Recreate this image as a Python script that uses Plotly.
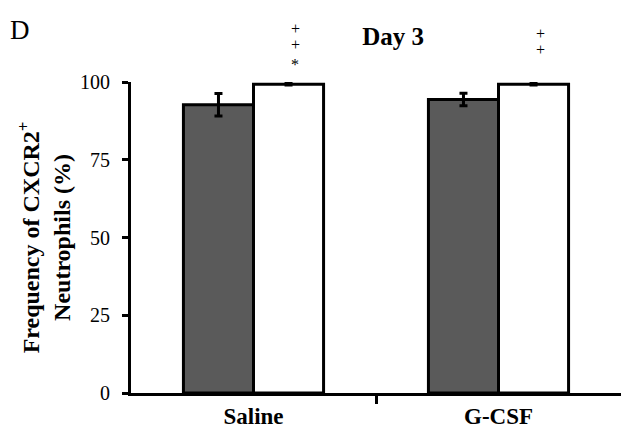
import plotly.graph_objects as go

categories = ["Saline", "G-CSF"]
dark_values = [92.7, 94.4]
dark_errors = [3.6, 2.0]
white_values = [99.3, 99.3]
white_errors = [0.3, 0.3]
sig_marks = [["+", "+", "*"], ["+", "+"]]
y_ticks = [0, 25, 50, 75, 100]

xpos = list(range(len(categories)))
serif = "Liberation Serif, Times New Roman, serif"
# pixel offsets of each mark above the bar top
mark_shifts = [[55, 39, 19], [50, 34]]

fig = go.Figure()
fig.add_trace(go.Bar(
    x=xpos, y=dark_values, width=0.286, offset=-0.286,
    marker=dict(color="#5a5a5a", line=dict(color="black", width=3)),
    error_y=dict(type="data", array=dark_errors, color="black", thickness=3, width=4),
))
fig.add_trace(go.Bar(
    x=xpos, y=white_values, width=0.286, offset=0,
    marker=dict(color="white", line=dict(color="black", width=3)),
    error_y=dict(type="data", array=white_errors, color="black", thickness=3, width=4),
))

for i, marks in enumerate(sig_marks):
    for j, m in enumerate(marks):
        fig.add_annotation(x=xpos[i] + 0.17, y=white_values[i] + white_errors[i], yref="y",
                           text=m, showarrow=False, yanchor="middle", yshift=mark_shifts[i][j],
                           font=dict(family=serif, size=16, color="#000000"))

fig.add_annotation(x=-0.252, y=1.222, xref="paper", yref="paper", xanchor="left", yanchor="top",
                   text="D", showarrow=False,
                   font=dict(family=serif, size=27, color="#000000"))

fig.update_layout(
    width=621, height=439,
    margin=dict(l=131, r=0, t=82, b=46),
    paper_bgcolor="white", plot_bgcolor="white",
    showlegend=False, barmode="overlay",
    title=dict(text="<b>Day 3</b>", x=0.633, xanchor="center", y=0.917, yanchor="middle",
               font=dict(family=serif, size=25, color="black")),
    xaxis=dict(range=[-0.5, 1.5], tickvals=xpos,
               ticktext=["<b>" + c + "</b>" for c in categories],
               ticks="", showline=True, linecolor="black", linewidth=3,
               showgrid=False, zeroline=False,
               tickfont=dict(family=serif, size=23, color="black"),
               minor=dict(tickvals=[0.5], ticks="outside", ticklen=8, tickwidth=3, tickcolor="black")),
    yaxis=dict(range=[0, 100], tickvals=y_ticks, ticks="outside", ticklen=6, tickwidth=3,
               tickcolor="black", showline=True, linecolor="black", linewidth=3,
               showgrid=False, zeroline=False, ticklabelstandoff=8,
               tickfont=dict(family=serif, size=20, color="black"),
               title=dict(text="<b>Frequency of CXCR2<sup>+</sup><br>Neutrophils (%)</b>",
                          standoff=3, font=dict(family=serif, size=24, color="black"))),
)

fig.write_html("out.html")
